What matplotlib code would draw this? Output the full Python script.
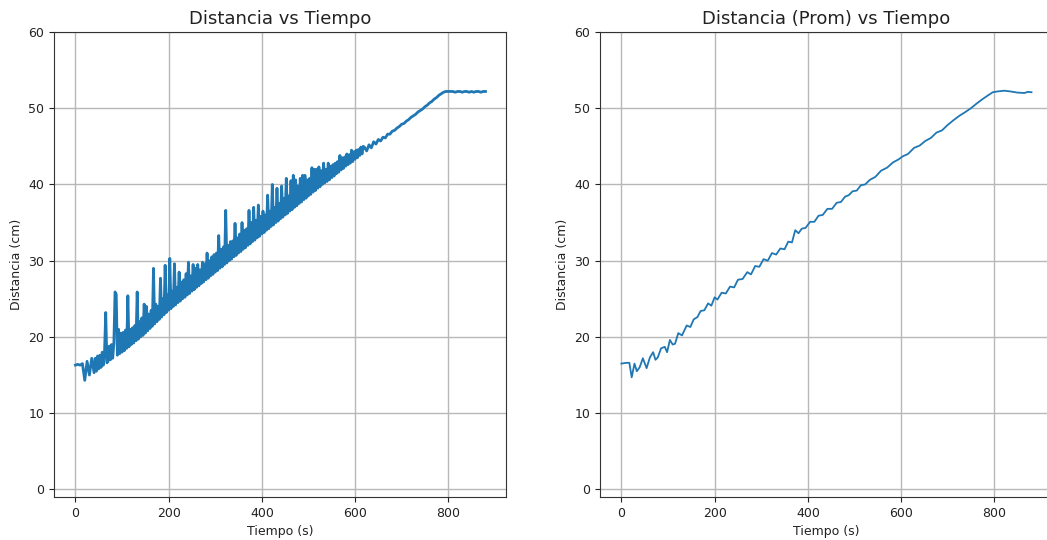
import numpy as np
import matplotlib
matplotlib.use("Agg")
import matplotlib.pyplot as plt

# ---------------- data ----------------
# Left panel: raw distance (5 s steps, 2.5 s steps in the noisy middle part)
tiempo_raw = np.concatenate([np.arange(0, 40, 5),
                             np.arange(40, 620, 2.5),
                             np.arange(620, 885, 5)])
distancia_raw = [
    # 0 - 35 s
    16.3, 16.4, 16.3, 16.5, 14.3, 16.8, 15.0, 17.2,
    # 40 - 617.5 s (blocks of 10 s)
    15.3, 17.2, 15.5, 17.5,
    15.8, 17.6, 16.0, 18.0,
    16.3, 18.2, 23.2, 16.6,
    16.8, 18.8, 17.0, 19.0,
    17.2, 19.2, 25.9, 25.6,
    17.6, 21.0, 17.8, 20.5,
    18.0, 20.6, 18.2, 20.9,
    18.5, 25.4, 18.7, 21.0,
    19.0, 21.2, 19.2, 21.5,
    19.5, 25.9, 19.7, 22.0,
    20.0, 22.5, 20.2, 24.3,
    20.5, 24.0, 20.8, 23.0,
    21.1, 23.5, 21.4, 29.0,
    21.7, 24.3, 22.0, 24.0,
    22.3, 27.7, 22.6, 25.0,
    22.9, 29.4, 23.2, 25.5,
    23.5, 30.3, 23.7, 26.0,
    24.0, 29.6, 24.2, 26.5,
    24.5, 28.5, 24.7, 27.2,
    25.0, 27.5, 25.2, 28.3,
    25.5, 29.8, 25.7, 28.0,
    26.0, 29.5, 26.2, 29.0,
    26.5, 29.5, 26.7, 28.8,
    27.0, 29.8, 27.2, 29.6,
    27.5, 31.0, 27.7, 30.0,
    28.0, 30.5, 28.2, 30.8,
    28.5, 31.0, 28.7, 33.3,
    29.0, 31.5, 29.2, 31.8,
    29.5, 36.6, 29.7, 32.0,
    30.0, 32.5, 30.2, 32.6,
    30.5, 34.9, 30.7, 33.0,
    31.0, 33.5, 31.2, 35.0,
    31.5, 34.0, 31.7, 34.2,
    32.0, 36.6, 32.2, 35.0,
    32.5, 37.0, 32.7, 35.3,
    33.0, 37.3, 33.2, 35.8,
    33.5, 36.5, 33.7, 36.0,
    34.0, 38.6, 34.2, 36.5,
    34.5, 40.0, 34.7, 37.0,
    35.0, 39.5, 35.2, 37.5,
    35.5, 39.8, 35.7, 38.2,
    36.0, 40.8, 36.2, 38.5,
    36.5, 40.5, 36.7, 41.2,
    37.0, 40.6, 37.2, 39.8,
    37.5, 40.8, 37.7, 41.2,
    38.0, 41.2, 38.2, 40.6,
    38.5, 40.8, 38.7, 42.2,
    39.0, 42.0, 39.2, 42.0,
    39.5, 42.3, 39.7, 41.8,
    40.0, 42.8, 40.2, 42.0,
    40.4, 42.8, 40.6, 42.4,
    40.9, 42.6, 41.1, 42.8,
    41.4, 43.0, 41.6, 43.8,
    41.9, 43.5, 42.1, 43.6,
    42.4, 44.0, 42.6, 43.9,
    42.8, 44.5, 43.0, 44.3,
    43.3, 44.5, 43.5, 44.6,
    43.8, 44.9, 44.0, 45.0,
    # 620 - 880 s
    44.9, 44.4, 45.2, 44.8, 45.6, 45.3,
    45.9, 45.7, 46.2, 46.1, 46.6, 46.6, 47.0, 47.1, 47.4, 47.6,
    47.9, 48.0, 48.3, 48.5, 48.8, 49.0, 49.2, 49.5, 49.7, 49.9,
    50.2, 50.4, 50.7, 50.9, 51.2, 51.4, 51.7, 51.9, 52.1, 52.2,
    52.2, 52.2, 52.2, 52.1, 52.2, 52.2, 52.1, 52.2, 52.2, 52.1,
    52.2, 52.1, 52.2, 52.2, 52.1, 52.2, 52.2,
]

# Right panel: averaged distance
tiempo_prom = [
    0, 10, 17, 22, 28, 33, 39, 46, 54, 61, 68, 73, 78, 85, 93, 98,
    104, 110, 115, 122, 130, 140, 148, 155, 163, 170, 178, 186, 193,
    200, 206, 215, 224, 233, 242, 250, 260, 270, 278, 287, 296, 305,
    314, 323, 332, 341, 350, 358, 366, 373, 380, 387, 395, 405, 414,
    423, 432, 442, 452, 462, 471, 480, 488, 496, 505, 514, 523, 533,
    545, 557, 570, 583, 595, 604, 615, 628, 640, 652, 664, 676, 688,
    700, 712, 725, 738, 750, 762, 775, 787, 797, 807, 822, 835, 850,
    865, 872, 880,
]
distancia_prom = [
    16.5, 16.6, 16.6, 14.7, 16.5, 15.5, 16.0, 17.2, 15.9, 17.3, 18.0,
    17.0, 17.3, 18.5, 18.7, 18.0,
    19.6, 19.0, 19.1, 20.5, 20.2, 21.5, 21.3, 22.3, 22.6, 23.4, 23.5,
    24.4, 24.1,
    25.2, 24.9, 25.8, 25.7, 26.6, 26.5, 27.5, 27.6, 28.5, 28.2, 29.3,
    29.2, 30.2,
    30.0, 31.0, 30.8, 31.6, 31.5, 32.5, 32.4, 34.0, 33.6, 34.2, 34.3,
    35.1, 35.1,
    35.9, 36.0, 36.8, 36.8, 37.6, 37.7, 38.4, 38.6, 39.1, 39.2, 39.9,
    40.0, 40.6,
    41.0, 41.8, 42.2, 42.9, 43.3, 43.7, 44.0, 44.8, 45.1, 45.7, 46.1,
    46.8, 47.1,
    47.8, 48.4, 49.0, 49.5, 50.0, 50.6, 51.2, 51.7, 52.1, 52.2, 52.3,
    52.2, 52.05,
    52.0, 52.15, 52.1,
]

titulos = ["Distancia vs Tiempo", "Distancia (Prom) vs Tiempo"]
xticks = [0, 200, 400, 600, 800]
yticks = [0, 10, 20, 30, 40, 50, 60]

# ---------------- figure ----------------
W, H = 1047, 540
fig = plt.figure(figsize=(W / 100, H / 100), dpi=100)
blue = "#1f77b4"

def make_ax(left_px):
    return fig.add_axes([left_px / W, 43 / H, 452 / W, 465 / H])

ax1 = make_ax(54)
ax2 = make_ax(600)

ax1.plot(tiempo_raw, distancia_raw, color=blue, lw=2.0, zorder=3)
ax2.plot(tiempo_prom, distancia_prom, color=blue, lw=1.3, zorder=3)

for ax, titulo in zip((ax1, ax2), titulos):
    ax.set_title(titulo, fontsize=13, color="#222222")
    ax.set_xlabel("Tiempo (s)", fontsize=9, color="#222222")
    ax.set_ylabel("Distancia (cm)", fontsize=9, color="#222222")
    ax.set_xlim(-46, 924)
    ax.set_ylim(-1, 60)
    ax.set_xticks(xticks)
    ax.set_yticks(yticks)
    ax.tick_params(labelsize=9, colors="#222222")
    ax.grid(True, color="#b8b8b8", lw=1.0, zorder=0)
    for s in ax.spines.values():
        s.set_color("#333333")

fig.savefig("out.png", dpi=100)
